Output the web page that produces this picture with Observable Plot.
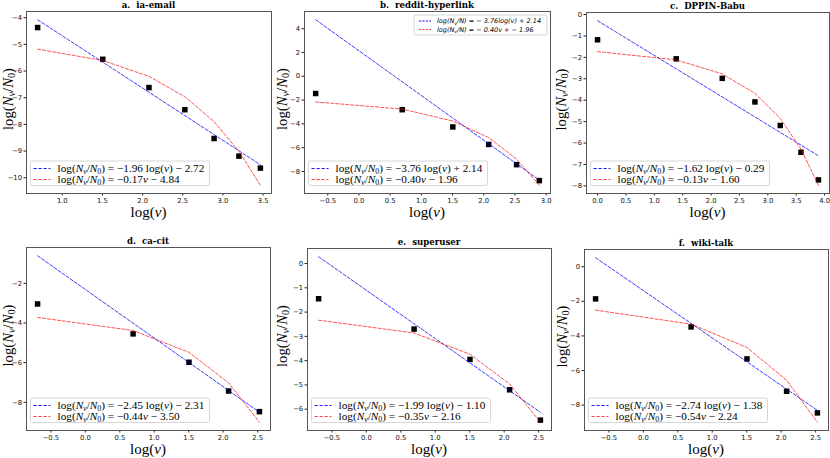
<!DOCTYPE html>
<html><head><meta charset="utf-8">
<script src="https://cdn.jsdelivr.net/npm/d3@7"></script>
<script src="https://cdn.jsdelivr.net/npm/@observablehq/plot@0.6"></script>
<style>
body{margin:0;background:#fff;}
#root{position:relative;width:830px;height:458px;overflow:hidden;background:#fff;}
#root svg{position:absolute;overflow:visible;}
</style></head><body><div id="root"></div>
<script>
// ---------- data ----------
const titles = ["a.  ia-email", "b.  reddit-hyperlink", "c.  DPPIN-Babu", "d.  ca-cit", "e.  superuser", "f.  wiki-talk"];

const logVa = [0.693, 1.504, 2.079, 2.526, 2.890, 3.199, 3.466];
const logVb = [-0.693, 0.693, 1.504, 2.079, 2.526, 2.890];
const logVc = [0, 1.386, 2.197, 2.773, 3.219, 3.584, 3.892];
const logVd = [-0.693, 0.693, 1.504, 2.079, 2.526];
const logVe = [-0.693, 0.693, 1.504, 2.079, 2.526];
const logVf = [-0.693, 0.693, 1.504, 2.079, 2.526];

const logNa = [-4.37, -5.56, -6.62, -7.45, -8.53, -9.19, -9.64];
const logNb = [-1.45, -2.81, -4.26, -5.73, -7.43, -8.77];
const logNc = [-1.18, -2.07, -2.98, -4.08, -5.18, -6.43, -7.72];
const logNd = [-3.04, -4.55, -5.98, -7.43, -8.47];
const logNe = [-1.45, -2.70, -3.95, -5.20, -6.45];
const logNf = [-1.86, -3.48, -5.33, -7.20, -8.45];

// power-law fit: log(Nv/N0) = slope*log(v) + intercept
const powerFits = [[-1.96, -2.72], [-3.76, 2.14], [-1.62, -0.29], [-2.45, -2.31], [-1.99, -1.10], [-2.74, -1.38]];
// exponential fit: log(Nv/N0) = rate*v + intercept
const expFits = [[-0.17, -4.84], [-0.40, -1.96], [-0.13, -1.60], [-0.44, -3.50], [-0.35, -2.16], [-0.54, -2.24]];

const xTicksA = [1.0, 1.5, 2.0, 2.5, 3.0, 3.5];
const xTicksB = [-0.5, 0.0, 0.5, 1.0, 1.5, 2.0, 2.5, 3.0];
const xTicksC = [0.0, 0.5, 1.0, 1.5, 2.0, 2.5, 3.0, 3.5, 4.0];
const xTicksDEF = [-0.5, 0.0, 0.5, 1.0, 1.5, 2.0, 2.5];
const yTicksA = [-4, -5, -6, -7, -8, -9, -10];
const yTicksB = [4, 2, 0, -2, -4, -6, -8];
const yTicksC = [0, -1, -2, -3, -4, -5, -6, -7, -8];
const yTicksD = [-2, -4, -6, -8];
const yTicksE = [0, -1, -2, -3, -4, -5, -6];
const yTicksF = [0, -2, -4, -6, -8];

const logVs = [logVa, logVb, logVc, logVd, logVe, logVf];
const logNs = [logNa, logNb, logNc, logNd, logNe, logNf];
const xTicks = [xTicksA, xTicksB, xTicksC, xTicksDEF, xTicksDEF, xTicksDEF];
const yTicks = [yTicksA, yTicksB, yTicksC, yTicksD, yTicksE, yTicksF];

// ---------- layout ----------
const layout = [
  {left: 0,   top: 0,   w: 276, h: 230, ml: 26, mr: 5, mt: 11, mb: 37, ylx: 9.5},
  {left: 276, top: 0,   w: 277, h: 230, ml: 28, mr: 3, mt: 11, mb: 37, ylx: 8},
  {left: 553, top: 0,   w: 277, h: 230, ml: 33, mr: 1, mt: 12, mb: 37, ylx: 10},
  {left: 0,   top: 229, w: 276, h: 229, ml: 26, mr: 6, mt: 18, mb: 28, ylx: 9.5},
  {left: 276, top: 229, w: 277, h: 229, ml: 31, mr: 2, mt: 19, mb: 28, ylx: 8},
  {left: 553, top: 229, w: 277, h: 229, ml: 31, mr: 2, mt: 20, mb: 28, ylx: 11}
];

const SERIF = "'Liberation Serif', 'Times New Roman', serif";
const SANS = "'DejaVu Sans', sans-serif";
const DASH = "3.2,1.8";
const fx = d3.format(".1f");
const fy = d3.format("d");
const num = v => (v < 0 ? "\u2212" : "") + Math.abs(v).toFixed(2);
const sgn = v => (v < 0 ? "\u2212 " : "+ ") + Math.abs(v).toFixed(2);

function mathText(g, x, y, parts, size, family, italicAll, anchor) {
  const t = g.append("text").attr("x", x).attr("y", y).attr("text-anchor", anchor || "start")
    .attr("font-family", family).attr("font-size", size).attr("fill", "#000");
  if (italicAll) t.attr("font-style", "italic");
  let sub = false;
  for (const [s, st] of parts) {
    const ts = t.append("tspan").text(s);
    const isSub = st.includes("s");
    if (st.includes("i")) ts.attr("font-style", "italic");
    if (isSub) ts.attr("font-size", size * 0.7);
    if (isSub && !sub) ts.attr("dy", size * 0.22);
    if (!isSub && sub) ts.attr("dy", -size * 0.22);
    sub = isSub;
  }
  return t;
}
// draw text then rescale its font size so its width matches a target width
function fittedText(g, x, y, parts, size, family, italicAll, target, anchor) {
  const t = mathText(g, x, y, parts, size, family, italicAll, anchor);
  const w = t.node().getComputedTextLength();
  if (!w) return {t, size};
  const s2 = size * target / w;
  t.remove();
  return {t: mathText(g, x, y, parts, s2, family, italicAll, anchor), size: s2};
}
const lhs = [["log(", ""], ["N", "i"], ["v", "is"], ["/", ""], ["N", "i"], ["0", "s"], [")", ""]];
function powerParts(a, b) {
  return [...lhs, [" = " + num(a) + " log(", ""], ["v", "i"], [") " + sgn(b), ""]];
}
function expParts(c, d) {
  return [...lhs, [" = " + num(c), ""], ["v", "i"], [" " + sgn(d), ""]];
}

const root = document.getElementById("root");

for (let i = 0; i < 6; i++) {
  const L = layout[i];
  const lv = logVs[i], ln = logNs[i];
  const [pa, pb] = powerFits[i];
  const [ec, ed] = expFits[i];
  const pts = lv.map((x, k) => ({x, y: ln[k]}));
  const blue = lv.map(x => ({x, y: pa * x + pb}));
  const red = lv.map(x => ({x, y: ec * Math.exp(x) + ed}));
  const allY = [...ln, ...blue.map(d => d.y), ...red.map(d => d.y)];
  const [ymin, ymax] = d3.extent(allY);
  const [xmin, xmax] = d3.extent(lv);
  const px = (xmax - xmin) * 0.05, py = (ymax - ymin) * 0.05;

  const svg = Plot.plot({
    width: L.w, height: L.h,
    marginLeft: L.ml, marginRight: L.mr, marginTop: L.mt, marginBottom: L.mb,
    style: {fontFamily: SANS, fontSize: "6.8px", color: "#111", background: "transparent", overflow: "visible"},
    x: {domain: [xmin - px, xmax + px]},
    y: {domain: [ymin - py, ymax + py]},
    marks: [
      Plot.axisX(xTicks[i], {tickFormat: fx, tickSize: 2.5, tickPadding: 2, fontSize: 6.8, label: null, stroke: "#222"}),
      Plot.axisY(yTicks[i], {tickFormat: fy, tickSize: 2.5, tickPadding: 2, fontSize: 6.8, label: null, stroke: "#222"}),
      Plot.dot(pts, {x: "x", y: "y", symbol: "square", r: 3.1, fill: "black", stroke: "none"}),
      Plot.line(blue, {x: "x", y: "y", stroke: "#0000ff", strokeOpacity: 0.85, strokeWidth: 0.9, strokeDasharray: DASH}),
      Plot.line(red, {x: "x", y: "y", stroke: "#ff0000", strokeOpacity: 0.75, strokeWidth: 0.9, strokeDasharray: DASH}),
      Plot.frame({stroke: "#555", strokeWidth: 1})
    ]
  });
  svg.style.left = L.left + "px";
  svg.style.top = L.top + "px";
  root.appendChild(svg);

  const g = d3.select(svg).append("g");
  const fl = L.ml, fr = L.w - L.mr, ft = L.mt, fb = L.h - L.mb;
  const cx = (fl + fr) / 2, cy = (ft + fb) / 2;

  // title
  g.append("text").attr("x", cx).attr("y", ft - 3.5).attr("text-anchor", "middle")
    .attr("font-family", "'DejaVu Serif', serif").attr("font-weight", "bold").attr("font-size", 8.6)
    .attr("fill", "#000").text(titles[i]);

  // x label
  const xl = g.append("text").attr("x", cx).attr("y", fb + 24).attr("text-anchor", "middle")
    .attr("font-family", SERIF).attr("font-size", 15).attr("fill", "#000");
  xl.append("tspan").text("log(");
  xl.append("tspan").attr("font-style", "italic").text("v");
  xl.append("tspan").text(")");

  // y label
  const yg = g.append("g").attr("transform", `translate(${L.ylx},${cy - 3}) rotate(-90)`);
  fittedText(yg, 0, 0, lhs, 14, SERIF, false, 62, "middle").t.attr("dominant-baseline", "middle");

  // lower-left legend
  const lx = fl + 4.5, ly = fb - 32;
  const lg = g.append("g").attr("transform", `translate(${lx},${ly})`);
  const box = lg.append("rect").attr("width", 180).attr("height", 24.5).attr("rx", 2)
    .attr("fill", "white").attr("fill-opacity", 0.85).attr("stroke", "#ccc").attr("stroke-width", 0.8);
  const first = fittedText(lg, 27, 11, powerParts(pa, pb), 10.5, SERIF, false, 147);
  mathText(lg, 27, 22, expParts(ec, ed), first.size, SERIF, false);
  box.attr("width", 27 + 147 + 5);
  [["#0000ff", 0.9], ["#ff0000", 0.75]].forEach(([c, o], k) => {
    const yy = 7.5 + k * 11;
    lg.append("line").attr("x1", 3).attr("x2", 20).attr("y1", yy).attr("y2", yy)
      .attr("stroke", c).attr("stroke-opacity", o).attr("stroke-width", 1.1).attr("stroke-dasharray", DASH);
  });

  // extra upper-right legend in panel b
  if (i === 1) {
    const ug = g.append("g").attr("transform", `translate(${fr - 136},${ft + 4})`);
    ug.append("rect").attr("width", 133).attr("height", 20).attr("rx", 2)
      .attr("fill", "white").attr("fill-opacity", 0.85).attr("stroke", "#ccc").attr("stroke-width", 0.8);
    const sansParts = [
      [["log(N", ""], ["v", "s"], ["/N) = \u2212 " + Math.abs(pa).toFixed(2) + "log(v) + " + pb.toFixed(2), ""]],
      [["log(N", ""], ["v", "s"], ["/N) = \u2212 " + Math.abs(ec).toFixed(2) + "v + \u2212 " + Math.abs(ed).toFixed(2), ""]]
    ];
    const u1 = fittedText(ug, 23, 8.2, sansParts[0], 6.3, SANS, true, 104);
    mathText(ug, 23, 16.7, sansParts[1], u1.size, SANS, true);
    [["#0000ff", 0.9], ["#ff0000", 0.75]].forEach(([c, o], k) => {
      const yy = 6 + k * 8.5;
      ug.append("line").attr("x1", 5).attr("x2", 17).attr("y1", yy).attr("y2", yy)
        .attr("stroke", c).attr("stroke-opacity", o).attr("stroke-width", 1).attr("stroke-dasharray", "2.2,1.2");
    });
  }
}
</script></body></html>
